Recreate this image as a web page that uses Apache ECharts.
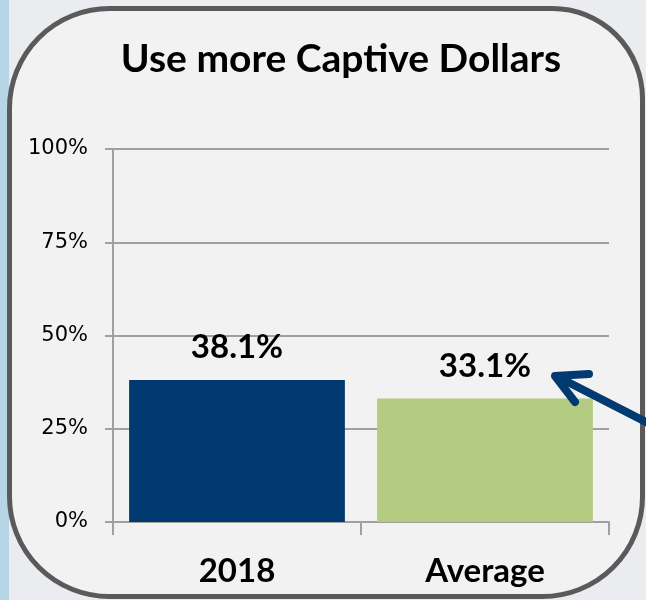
<!DOCTYPE html>
<html><head><meta charset="utf-8">
<script src="https://cdn.jsdelivr.net/npm/echarts@6/dist/echarts.min.js"></script>
<style>html,body{margin:0;padding:0;background:#ebecef;}#c{width:646px;height:600px;}</style>
</head><body><div id="c"></div>
<script>
const titleText = 'Use more Captive Dollars';
const categories = ['2018', 'Average'];
const values = [38.1, 33.1];
const barColors = ['#003a70', '#b3cc82'];
const yTicks = [0, 25, 50, 75, 100];

const chart = echarts.init(document.getElementById('c'));
chart.setOption({
  backgroundColor: 'transparent',
  animation: false,
  title: {
    text: titleText, left: 336, top: 35, textAlign: 'center',
    textStyle: {fontFamily: 'Lato', fontWeight: 'bold', fontSize: 39, color: '#000'}
  },
  grid: {left: 113, right: 37, top: 149, bottom: 78, containLabel: false},
  xAxis: {
    type: 'category', data: categories,
    axisLine: {lineStyle: {color: '#a0a0a0', width: 2}},
    axisTick: {show: true, length: 13, lineStyle: {color: '#a0a0a0', width: 2}},
    axisLabel: {margin: 33, fontFamily: 'Lato', fontWeight: 'bold', fontSize: 33, color: '#000'}
  },
  yAxis: {
    type: 'value', min: yTicks[0], max: yTicks[yTicks.length-1], interval: 25,
    axisLine: {show: true, lineStyle: {color: '#a0a0a0', width: 2}},
    axisTick: {show: true, length: 8, lineStyle: {color: '#a0a0a0', width: 2}},
    splitLine: {lineStyle: {color: '#a0a0a0', width: 2}},
    axisLabel: {margin: 25, formatter: '{value}%', fontFamily: 'DejaVu Sans', fontSize: 21, color: '#000'}
  },
  series: [{
    type: 'bar', barCategoryGap: '13%', z: 3,
    data: values.map((v, i) => ({value: v, itemStyle: {color: barColors[i]}})),
    label: {show: true, position: 'top', distance: 16, formatter: '{c}%',
      fontFamily: 'Lato', fontWeight: 'bold', fontSize: 33, color: '#000'}
  }],
  graphic: [
    {type: 'rect', shape: {x: 0, y: 0, width: 9, height: 600}, style: {fill: '#b6d5e7'}, z: -20, silent: true},
    {type: 'rect', shape: {x: 9.5, y: 8.5, width: 633, height: 588, r: [100, 90, 100, 100]},
      style: {fill: '#f2f2f2', stroke: '#5a5a5a', lineWidth: 5}, z: -10, silent: true},
    {type: 'line', shape: {x1: 650, y1: 424, x2: 558, y2: 377},
      style: {stroke: '#003a70', lineWidth: 8, lineCap: 'round'}, z: 10, silent: true},
    {type: 'polyline', shape: {points: [[589, 374], [555, 376], [575, 402]]},
      style: {stroke: '#003a70', lineWidth: 8, lineCap: 'round', lineJoin: 'round', fill: null}, z: 10, silent: true}
  ]
});
</script></body></html>
